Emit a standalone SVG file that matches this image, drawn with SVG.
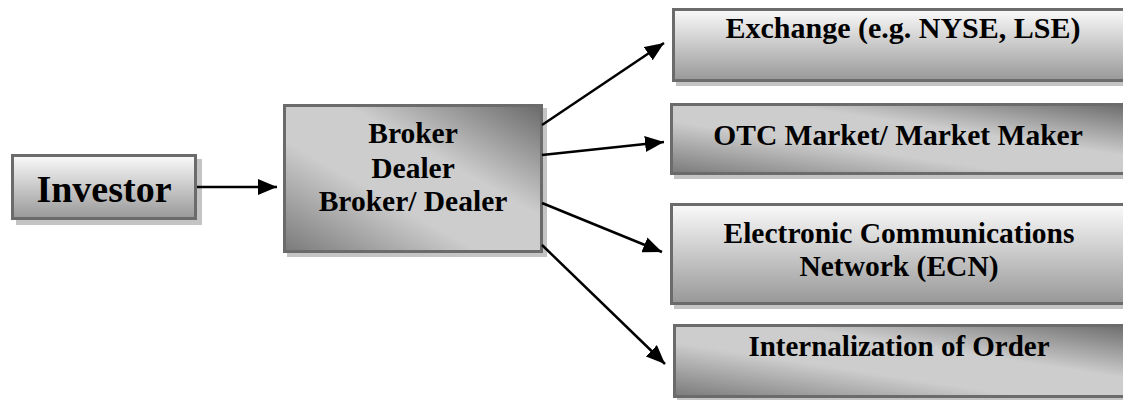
<svg xmlns="http://www.w3.org/2000/svg" width="1123" height="400" viewBox="0 0 1123 400">
  <defs>
    <linearGradient id="vg" x1="0" y1="0" x2="0" y2="1">
      <stop offset="0" stop-color="#fafafa"/>
      <stop offset="1" stop-color="#989898"/>
    </linearGradient>
    <linearGradient id="dg" x1="0" y1="1" x2="1" y2="0">
      <stop offset="0" stop-color="#7a7a7a"/>
      <stop offset="0.38" stop-color="#cdcdcd"/>
      <stop offset="0.62" stop-color="#cdcdcd"/>
      <stop offset="1" stop-color="#6a6a6a"/>
    </linearGradient>
    <marker id="ah" markerUnits="userSpaceOnUse" markerWidth="20" markerHeight="16" refX="19" refY="8" orient="auto">
      <path d="M0,0 L19,8 L0,16 z" fill="#000"/>
    </marker>
    <style>
      .box { stroke: #6b6b6b; stroke-width: 3; }
      .sh { fill: #c4c4c4; }
      .t { font-family: 'Liberation Serif', 'DejaVu Serif', 'Times New Roman', Times, serif; font-weight: 700; fill: #000; text-anchor: middle; }
      .conn line { stroke: #000; stroke-width: 2.5; marker-end: url(#ah); }
    </style>
  </defs>
  <rect width="1123" height="400" fill="#fff"/>

  <g id="investor">
    <rect class="sh" x="16" y="159" width="186" height="66"/>
    <rect class="box" x="12.5" y="155.5" width="183" height="63" fill="url(#vg)"/>
    <text class="t" x="104" y="202" font-size="38">Investor</text>
  </g>

  <g id="broker">
    <rect class="sh" x="287" y="108" width="260" height="149"/>
    <rect class="box" x="284.5" y="105.5" width="257" height="146" fill="url(#dg)"/>
    <text class="t" x="413" y="143" font-size="29.5">Broker</text>
    <text class="t" x="413" y="178" font-size="29.5">Dealer</text>
    <text class="t" x="413" y="211" font-size="29.5">Broker/ Dealer</text>
  </g>

  <g id="exchange">
    <rect class="sh" x="676" y="12" width="460" height="74"/>
    <rect class="box" x="673.5" y="9.5" width="460" height="71" fill="url(#vg)"/>
    <text class="t" x="903" y="38" font-size="30">Exchange (e.g. NYSE, LSE)</text>
  </g>

  <g id="otc">
    <rect class="sh" x="674" y="107" width="460" height="72"/>
    <rect class="box" x="671.5" y="104.5" width="460" height="69" fill="url(#dg)"/>
    <text class="t" x="898" y="145" font-size="29.5">OTC Market/ Market Maker</text>
  </g>

  <g id="ecn">
    <rect class="sh" x="674" y="207" width="460" height="102"/>
    <rect class="box" x="671.5" y="204.5" width="460" height="99" fill="url(#vg)"/>
    <text class="t" x="899" y="243" font-size="29.5">Electronic Communications</text>
    <text class="t" x="899" y="276" font-size="29.5">Network (ECN)</text>
  </g>

  <g id="internalization">
    <rect class="sh" x="677" y="328" width="460" height="74"/>
    <rect class="box" x="674.5" y="325.5" width="460" height="71" fill="url(#dg)"/>
    <text class="t" x="899" y="356" font-size="29">Internalization of Order</text>
  </g>

  <g id="connectors" class="conn">
    <line x1="197" y1="187" x2="277" y2="187"/>
    <line x1="542" y1="125" x2="664" y2="43"/>
    <line x1="542" y1="155" x2="664" y2="142"/>
    <line x1="542" y1="203" x2="662" y2="252"/>
    <line x1="542" y1="245" x2="665" y2="364"/>
  </g>
</svg>
